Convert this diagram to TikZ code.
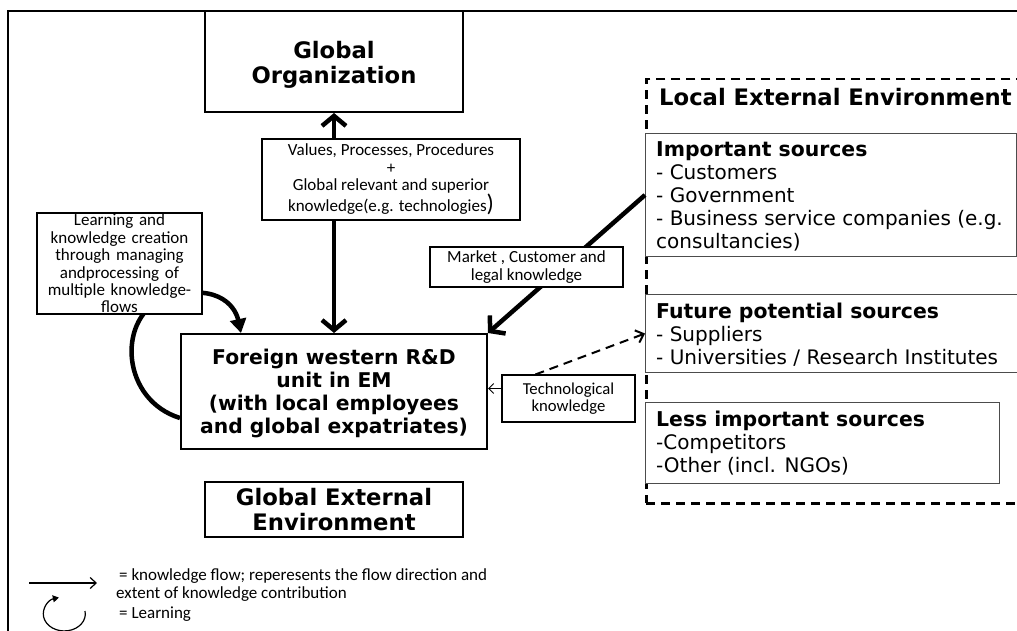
\documentclass[tikz,border=0pt]{standalone}
\usepackage{fontspec}
\setmainfont{DejaVu Sans}
\newfontfamily\calibri{Carlito}
\usetikzlibrary{arrows.meta}

\begin{document}
\begin{tikzpicture}[x=1pt,y=-1pt,
  mainbox/.style={draw, line width=2pt, fill=white, align=center,
    font=\fontsize{22.7}{25}\selectfont\bfseries, inner sep=0pt},
  labelbox/.style={draw, line width=1.1pt, fill=white, align=center,
    font=\calibri\fontsize{17}{17.4}\selectfont, inner sep=0pt},
  srcbox/.style={draw=black!70, line width=1pt, fill=white, inner sep=0pt, anchor=north west},
  srctext/.style={anchor=north west, align=left, inner sep=0pt,
    font=\fontsize{20}{23}\selectfont},
  flow/.style={line width=4.5pt, -{Straight Barb[length=10pt,width=24pt]}},
  bothflow/.style={line width=4.5pt, {Straight Barb[length=10pt,width=24pt]}-{Straight Barb[length=10pt,width=24pt]}},
  thinflow/.style={line width=1pt, -{Straight Barb[length=5pt,width=10pt]}},
]
\clip (0,0) rectangle (1017,631);
\fill[white] (0,0) rectangle (1017,631);

% outer frame (runs off the right and bottom edges)
\draw[line width=2.5pt] (1040,11) -- (8,11) -- (8,660);

% main boxes
\node[mainbox, minimum width=258pt, minimum height=101pt] (go) at (334,61.5)
  {\raisebox{-5pt}[\height][\depth]{\begin{tabular}{@{}c@{}}Global\\Organization\end{tabular}}};
\node[mainbox, font=\fontsize{20.3}{23}\selectfont\bfseries, minimum width=306pt, minimum height=115pt]
  (fu) at (334,391.5) {\raisebox{-3pt}[\height][\depth]{\begin{tabular}{@{}c@{}}Foreign western R\&D\\unit in EM\\(with local employees\\and global expatriates)\end{tabular}}};
\node[mainbox, minimum width=258pt, minimum height=55pt] (gee) at (334,509.5) {Global External\\Environment};

% local external environment
\node[draw, line width=2.5pt, dash pattern=on 9pt off 6pt, minimum width=420pt, minimum height=424pt,
  anchor=north west, inner sep=0pt] (loc) at (645,78) {};
\node[anchor=west, inner sep=0pt, font=\fontsize{22.7}{25}\selectfont\bfseries] (loctitle) at (659,97) {Local External Environment};

\node[srcbox, minimum width=371pt, minimum height=123pt] (imp) at (645,133) {};
\node[srctext] (imptext) at (656,141) {{\fontsize{20.4}{23}\selectfont\bfseries Important sources}\\- Customers\\- Government\\- Business service companies (e.g.\\consultancies)};

\node[srcbox, minimum width=420pt, minimum height=78pt] (fut) at (645,294) {};
\node[srctext] (futtext) at (656,303) {{\fontsize{20.4}{23}\selectfont\bfseries Future potential sources}\\- Suppliers\\- Universities / Research Institutes};

\node[srcbox, minimum width=354pt, minimum height=81pt] (less) at (645,402) {};
\node[srctext] (lesstext) at (656,411) {{\fontsize{20.4}{23}\selectfont\bfseries Less important sources}\\-Competitors\\-Other (incl. NGOs)};

% knowledge flows
\draw[bothflow] (go.south) -- (fu.north);
\draw[flow] (imp.west) -- (fu.north east);
\draw[line width=4.5pt, -{Triangle[length=14pt,width=16pt]}]
  ([yshift=-26.5pt]fu.west) .. controls (122,400) and (117,322) .. (160,300)
  .. controls (215,280) and (235,305) .. ([xshift=61pt]fu.north west);

% label boxes on top of the flows
\node[labelbox, minimum width=258pt, minimum height=81pt] (val) at (391,179.5)
  {Values, Processes, Procedures\\+\\Global relevant and superior\\knowledge(e.g. technologies{\fontsize{24}{24}\selectfont )}};
\node[labelbox, text width=165pt, minimum height=101pt] (learn) at (119.5,263.5)
  {Learning and\\knowledge creation\\through managing\\andprocessing of\\multiple knowledge-\\flows};
\node[labelbox, minimum width=193pt, minimum height=40pt] (mkt) at (526.5,267) {Market , Customer and\\legal knowledge};
\node[labelbox, font=\calibri\fontsize{16.7}{17}\selectfont, minimum width=133pt, minimum height=47pt] (tech) at (568.5,398.5) {Technological\\knowledge};

\draw[thinflow] (tech.west) ++(0,-10) coordinate (tk) -- (tk -| fu.east);
\draw[line width=2pt, dash pattern=on 9pt off 6pt, -{Straight Barb[length=7pt,width=13pt]}]
  ([xshift=-33pt]tech.north) -- (fut.west);

% legend
\coordinate (la) at (29,583);
\coordinate (lb) at (97,583);
\draw[line width=1.2pt, -{Straight Barb[length=6pt,width=11pt]}] (la) -- (lb);
\node[anchor=north west, align=left, inner sep=0pt, font=\calibri\fontsize{17}{18}\selectfont] (legflow) at (116,568)
  {\hspace{3pt}= knowledge flow; reperesents the flow direction and\\extent of knowledge contribution};
\coordinate (lc) at (85,611);
\draw[line width=1.2pt, -{Triangle[length=6pt,width=7pt]}] (lc) arc[start angle=-10, end angle=255, x radius=21, y radius=17];
\node[anchor=west, inner sep=0pt, font=\calibri\fontsize{17}{18}\selectfont] (leglearn) at (119,614) {= Learning};
\end{tikzpicture}
\end{document}
